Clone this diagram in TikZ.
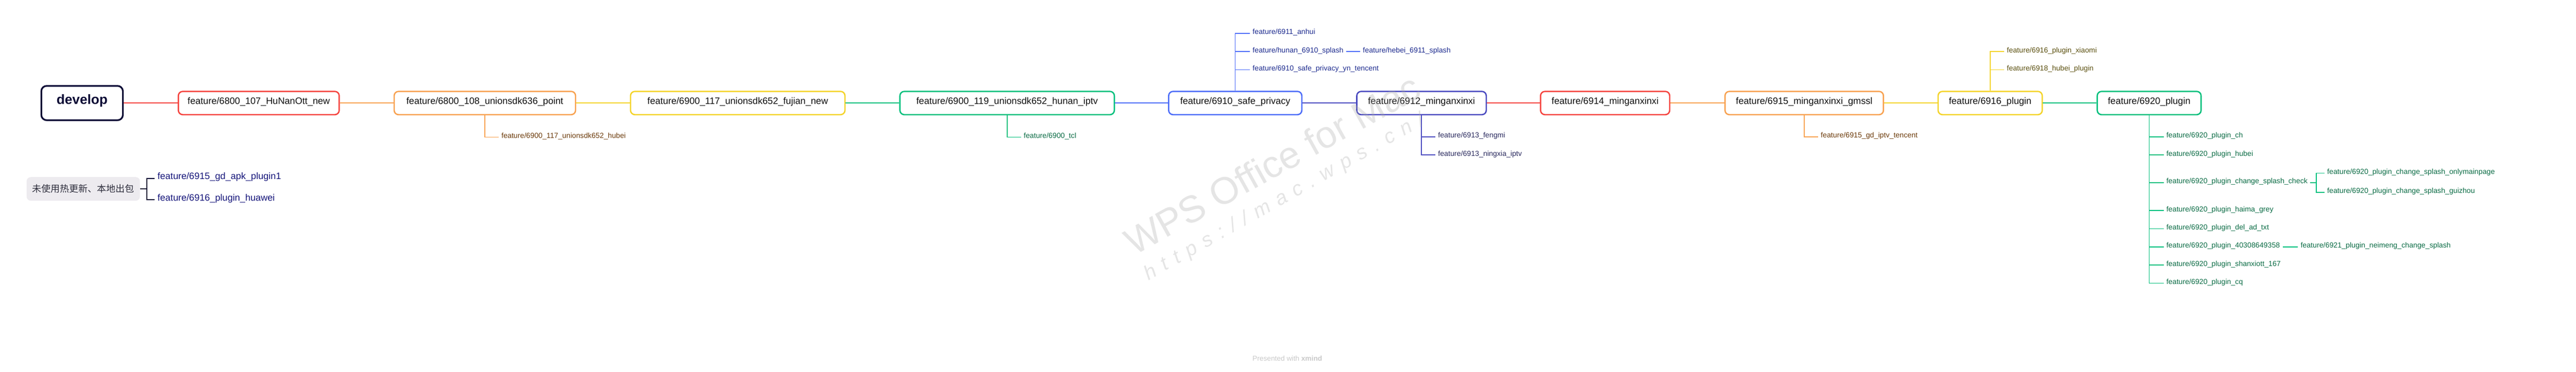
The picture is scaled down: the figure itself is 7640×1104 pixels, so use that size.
\documentclass[tikz,border=0pt]{standalone}
\usepackage{fontspec}
\setmainfont{Liberation Sans}
\newfontfamily\cjkfont{Noto Sans CJK SC}
\newfontfamily\markfont[LetterSpace=40]{Liberation Sans}
\definecolor{devnavy}{HTML}{0C0B35}
\definecolor{topred}{HTML}{F5443F}
\definecolor{toporange}{HTML}{F8A251}
\definecolor{topyellow}{HTML}{F4D42B}
\definecolor{topgreen}{HTML}{05C07D}
\definecolor{topblue}{HTML}{4D6DF8}
\definecolor{topindigo}{HTML}{4B4BC0}
\definecolor{txtbrown}{HTML}{6B3A0A}
\definecolor{txtolive}{HTML}{5B5010}
\definecolor{txtgreen}{HTML}{0A6B44}
\definecolor{txtnavy}{HTML}{1D2B8E}
\definecolor{txtindigo}{HTML}{2A2A5E}
\definecolor{floattext}{HTML}{15157A}
\definecolor{notefill}{HTML}{EDEBEF}
\definecolor{notetext}{HTML}{2E2E3C}
\definecolor{markgrey}{HTML}{A8A8A8}
\definecolor{footgrey}{HTML}{C8C8C8}
\begin{document}
\begin{tikzpicture}[x=1pt, y=-1pt,
		topic/.style={draw, line width=4pt, rounded corners=13pt, fill=white, minimum height=69pt, inner xsep=10pt, text=black!94, font=\fontsize{27.7}{33}\selectfont, text height=0.73em, text depth=0pt},
		trunk/.style={line width=3.6pt},
		twig/.style={line width=2.6pt},
		leaf/.style={anchor=west, inner xsep=8pt, inner ysep=1pt, font=\fontsize{21.7}{26}\selectfont, text height=0.8em, text depth=0.2em}]
	\useasboundingbox (0,0) rectangle (7640,1104);
	\node[topic, draw=devnavy, line width=5pt, minimum width=242pt, minimum height=102pt, rounded corners=16pt, text=devnavy, font=\fontsize{40}{48}\selectfont\bfseries] (dev) at (243.5,306) {develop};
	\foreach \n/\x/\w/\c/\t in {hunanott/767.5/477/topred/{feature/6800\_107\_HuNanOtt\_new},
		point/1438/538/toporange/{feature/6800\_108\_unionsdk636\_point},
		fujian/2188/636/topyellow/{feature/6900\_117\_unionsdk652\_fujian\_new},
		hunaniptv/2987/636/topgreen/{feature/6900\_119\_unionsdk652\_hunan\_iptv},
		privacy/3663.5/395/topblue/{feature/6910\_safe\_privacy},
		mingan/4216/384/topindigo/{feature/6912\_minganxinxi},
		minganb/4760.5/383/topred/{feature/6914\_minganxinxi},
		gmssl/5351/470/toporange/{feature/6915\_minganxinxi\_gmssl},
		plugin/5902.5/309/topyellow/{feature/6916\_plugin},
		pluginb/6374/308/topgreen/{feature/6920\_plugin}}{
		\node[topic, draw=\c, minimum width=\w pt] (\n) at (\x,306) {\t};
	}
	\foreach \a/\b/\c in {dev/hunanott/topred, hunanott/point/toporange, point/fujian/topyellow, fujian/hunaniptv/topgreen, hunaniptv/privacy/topblue, privacy/mingan/topindigo, mingan/minganb/topred, minganb/gmssl/toporange, gmssl/plugin/topyellow, plugin/pluginb/topgreen}{
		\draw[trunk, color=\c] (\a.east) -- (\b.west);
	}
	\node[leaf, text=txtbrown] (hubei) at (1479,407) {feature/6900\_117\_unionsdk652\_hubei};
	\draw[twig, toporange] (point.south) |- (hubei.west);
	\node[leaf, text=txtgreen] (tcl) at (3028,407) {feature/6900\_tcl};
	\draw[twig, topgreen] (hunaniptv.south) |- (tcl.west);
	\foreach \n/\y/\t in {anhui/99/{feature/6911\_anhui}, hunansplash/153/{feature/hunan\_6910\_splash}, yntencent/207/{feature/6910\_safe\_privacy\_yn\_tencent}}{
		\node[leaf, text=txtnavy] (\n) at (3707,\y) {\t};
		\draw[twig, topblue] (privacy.north) |- (\n.west);
	}
	\node[leaf, text=txtnavy] (hebei) at (4034,153) {feature/hebei\_6911\_splash};
	\draw[twig, topblue] (hunansplash.east) -- (hebei.west);
	\foreach \n/\y/\t in {fengmi/406/{feature/6913\_fengmi}, ningxia/460/{feature/6913\_ningxia\_iptv}}{
		\node[leaf, text=txtindigo] (\n) at (4257,\y) {\t};
		\draw[twig, topindigo] (mingan.south) |- (\n.west);
	}
	\node[leaf, text=txtbrown] (gdtencent) at (5392,406) {feature/6915\_gd\_iptv\_tencent};
	\draw[twig, toporange] (gmssl.south) |- (gdtencent.west);
	\foreach \n/\y/\t in {xiaomi/153/{feature/6916\_plugin\_xiaomi}, hubeiplugin/207/{feature/6918\_hubei\_plugin}}{
		\node[leaf, text=txtolive] (\n) at (5944,\y) {\t};
		\draw[twig, topyellow] (plugin.north) |- (\n.west);
	}
	\foreach \n/\y/\t in {ch/406/{feature/6920\_plugin\_ch}, phubei/460/{feature/6920\_plugin\_hubei}, check/542/{feature/6920\_plugin\_change\_splash\_check}, haima/625/{feature/6920\_plugin\_haima\_grey}, deladtxt/679/{feature/6920\_plugin\_del\_ad\_txt}, numbered/733/{feature/6920\_plugin\_40308649358}, shanxi/787/{feature/6920\_plugin\_shanxiott\_167}, cq/841/{feature/6920\_plugin\_cq}}{
		\node[leaf, text=txtgreen] (\n) at (6417,\y) {\t};
		\draw[twig, topgreen] (pluginb.south) |- (\n.west);
	}
	\coordinate (checkfork) at (6870,542);
	\node[leaf, text=txtgreen] (onlymain) at (6894,514) {feature/6920\_plugin\_change\_splash\_onlymainpage};
	\node[leaf, text=txtgreen] (guizhou) at (6894,571) {feature/6920\_plugin\_change\_splash\_guizhou};
	\draw[twig, topgreen] (check.east) -- (checkfork) |- (onlymain.west);
	\draw[twig, topgreen] (checkfork) |- (guizhou.west);
	\node[leaf, text=txtgreen] (neimeng) at (6815,733) {feature/6921\_plugin\_neimeng\_change\_splash};
	\draw[twig, topgreen] (numbered.east) -- (neimeng.west);
	\node[fill=notefill, rounded corners=12pt, minimum width=336pt, minimum height=70pt, text=notetext, font=\cjkfont\fontsize{27.5}{33}\selectfont] (note) at (247,561) {未使用热更新、本地出包};
	\coordinate (notefork) at (435,561);
	\node[leaf, text=floattext, font=\fontsize{27.7}{33}\selectfont] (apk) at (459,530) {feature/6915\_gd\_apk\_plugin1};
	\node[leaf, text=floattext, font=\fontsize{27.7}{33}\selectfont] (huawei) at (459,593) {feature/6916\_plugin\_huawei};
	\draw[trunk, devnavy] (note.east) -- (notefork) |- (apk.west);
	\draw[trunk, devnavy] (notefork) |- (huawei.west);
	\node[text=footgrey, font=\fontsize{21}{25}\selectfont] (footer) at (3818,1065) {Presented with \textbf{xmind}};
	\node[rotate=29, text=markgrey, text opacity=0.3, font=\fontsize{112}{130}\selectfont] (wpsmark) at (3773,487) {WPS Office for Mac};
	\node[rotate=29.5, text=markgrey, text opacity=0.3, font=\markfont\itshape\fontsize{60}{70}\selectfont] (wpsurl) at (3810,587) {https://mac.wps.cn/};
\end{tikzpicture}
\end{document}
